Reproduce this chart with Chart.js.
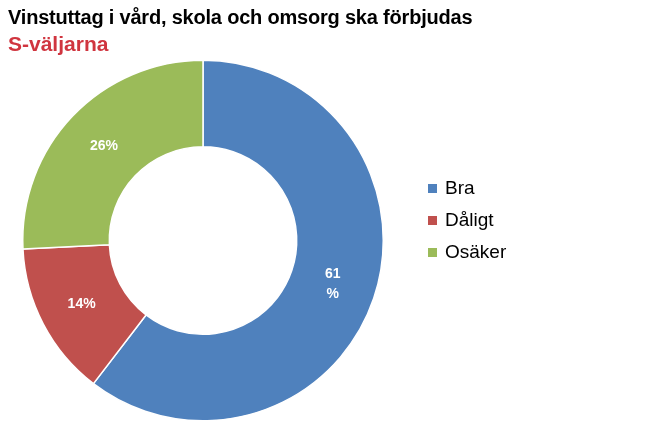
<!DOCTYPE html>
<html><head><meta charset="utf-8">
<script src="https://cdn.jsdelivr.net/npm/chart.js@4"></script>
<style>
body{margin:0;background:#fff;font-family:"Liberation Sans",Arial,sans-serif}
#wrap{position:relative;width:657px;height:444px}
#t{position:absolute;left:8px;top:6px;font-size:20px;font-weight:bold;color:#000;letter-spacing:-0.2px}
#s{position:absolute;left:8px;top:32px;font-size:21px;font-weight:bold;color:#d0353f}
#leg{position:absolute;left:428px;top:172px;font-size:19px;color:#000}
#leg div{height:32px;display:flex;align-items:center}
#leg span{display:inline-block;width:9px;height:9px;margin-right:8px}
</style></head>
<body><div id="wrap">
<canvas id="c" width="657" height="444"></canvas>
<div id="t">Vinstuttag i vård, skola och omsorg ska förbjudas</div>
<div id="s">S-väljarna</div>
<div id="leg"></div>
</div>
<script>
const labels = ['Bra', 'Dåligt', 'Osäker'];
const values = [61, 14, 26];
const colors = ['#4F81BD', '#C0504D', '#9BBB59'];
const valueLabels = ['61\n%', '14%', '26%'];

const leg = document.getElementById('leg');
labels.forEach((l, i) => {
	leg.innerHTML += '<div><span style="background:' + colors[i] + '"></span>' + l + '</div>';
});

const sliceLabels = {
	id: 'sliceLabels',
	afterDatasetsDraw(chart) {
		const ctx = chart.ctx;
		ctx.save();
		ctx.fillStyle = '#fff';
		ctx.font = 'bold 14px "Liberation Sans", Arial';
		ctx.textAlign = 'center';
		ctx.textBaseline = 'middle';
		chart.getDatasetMeta(0).data.forEach((arc, i) => {
			const p = arc.tooltipPosition();
			const lines = valueLabels[i].split('\n');
			lines.forEach((ln, j) => {
				ctx.fillText(ln, p.x, p.y + (j - (lines.length - 1) / 2) * 20);
			});
		});
		ctx.restore();
	}
};

new Chart(document.getElementById('c'), {
	type: 'doughnut',
	data: {
		labels: labels,
		datasets: [{
			data: values,
			backgroundColor: colors,
			borderColor: '#fff',
			borderWidth: 1.5
		}]
	},
	options: {
		responsive: false,
		animation: false,
		cutout: '52%',
		layout: { padding: { left: 22, right: 273, top: 59, bottom: 22 } },
		plugins: { legend: { display: false }, tooltip: { enabled: false } }
	},
	plugins: [sliceLabels]
});
</script>
</body></html>
